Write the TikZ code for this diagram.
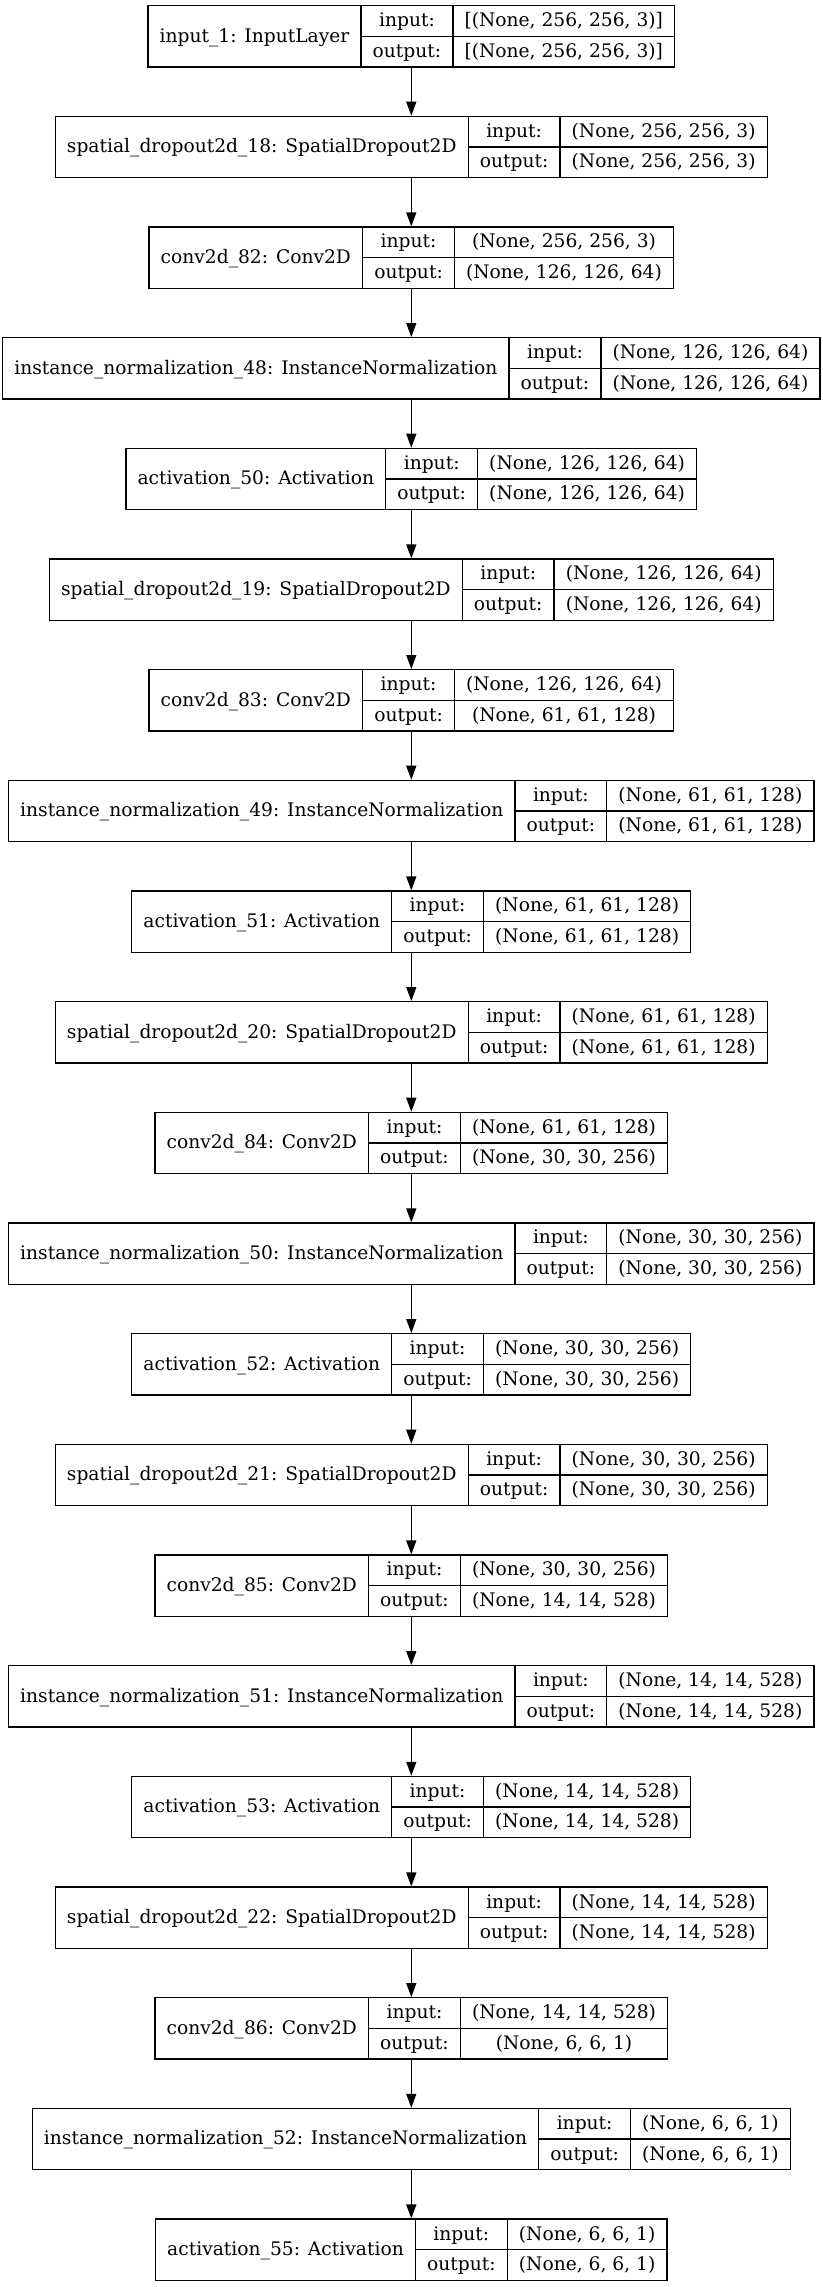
\documentclass[tikz,border=0pt]{standalone}
\usepackage{fontspec}
\setmainfont{DejaVu Serif}
\usetikzlibrary{arrows.meta}
\newsavebox\kbox
\newdimen\kdA \newdimen\kdB
\newcommand\kerasfont{\fontsize{14pt}{16pt}\selectfont}
\tikzset{
  layerbox/.style={draw=black, line width=1pt, inner sep=0pt, minimum height=46pt},
  cell/.style={draw=black, line width=1pt},
  ktext/.style={font=\kerasfont, inner sep=0pt, anchor=base, text=black},
  karrow/.style={draw=black, line width=1pt, -{Triangle[length=10.5pt, width=7.5pt]}},
}
% measured outside the picture: #1 row index, #2 label, #3 input, #4 output
\newcommand\kmeasure[4]{%
  \sbox\kbox{\normalfont\kerasfont #2}\kdA=\wd\kbox
  \pgfmathsetmacro\kt{\the\kdA/0.75+23.3}%
  \expandafter\xdef\csname kwa#1\endcsname{\kt}%
  \sbox\kbox{\normalfont\kerasfont output:}\kdA=\wd\kbox
  \pgfmathsetmacro\kt{\the\kdA/0.75+23.3}%
  \expandafter\xdef\csname kwb#1\endcsname{\kt}%
  \sbox\kbox{\normalfont\kerasfont #3}\kdA=\wd\kbox
  \sbox\kbox{\normalfont\kerasfont #4}\kdB=\wd\kbox
  \ifdim\kdB>\kdA \kdA=\kdB\fi
  \pgfmathsetmacro\kt{\the\kdA/0.75+23.3}%
  \expandafter\xdef\csname kwc#1\endcsname{\kt}%
}
% #1 row index, #2 node name, #3 label, #4 input shape, #5 output shape
\newcommand\klayer[5]{%
  \edef\kwa{\csname kwa#1\endcsname}%
  \edef\kwb{\csname kwb#1\endcsname}%
  \edef\kwc{\csname kwc#1\endcsname}%
  \pgfmathsetmacro\kW{\kwa+\kwb+\kwc}%
  \pgfmathsetmacro\ktop{5.7+#1*110.67}%
  \pgfmathsetmacro\kcy{\ktop+30.65}%
  \pgfmathsetmacro\kleft{411.3-\kW/2}%
  \pgfmathsetmacro\kxa{\kleft+\kwa}%
  \pgfmathsetmacro\kxb{\kxa+\kwb}%
  \node[layerbox, minimum width=\kW*0.75pt] (#2) at (411.3,\kcy) {};
  \coordinate (#2-a) at (\kxa,\ktop);
  \coordinate (#2-b) at (\kxb,\ktop);
  \coordinate (#2-m) at (\kxa,\kcy);
  \draw[cell] (#2-a) -- (#2-a |- #2.south);
  \draw[cell] (#2-b) -- (#2-b |- #2.south);
  \draw[cell] (#2-m) -- (#2-m -| #2.east);
  \node[ktext] (#2-lab) at ({\kleft+\kwa/2},{\kcy+5.8}) {#3};
  \node[ktext] (#2-in)  at ({\kxa+\kwb/2},{\ktop+15.3+5.6}) {input:};
  \node[ktext] (#2-out) at ({\kxa+\kwb/2},{\kcy+15.3+5.6}) {output:};
  \node[ktext] (#2-iv)  at ({\kxb+\kwc/2},{\ktop+15.3+5.6}) {#4};
  \node[ktext] (#2-ov)  at ({\kxb+\kwc/2},{\kcy+15.3+5.6}) {#5};
}
\newcommand\kall[1]{%
#1{0}{L1}{input\_1: InputLayer}{[(None, 256, 256, 3)]}{[(None, 256, 256, 3)]}%
#1{1}{L2}{spatial\_dropout2d\_18: SpatialDropout2D}{(None, 256, 256, 3)}{(None, 256, 256, 3)}%
#1{2}{L3}{conv2d\_82: Conv2D}{(None, 256, 256, 3)}{(None, 126, 126, 64)}%
#1{3}{L4}{instance\_normalization\_48: InstanceNormalization}{(None, 126, 126, 64)}{(None, 126, 126, 64)}%
#1{4}{L5}{activation\_50: Activation}{(None, 126, 126, 64)}{(None, 126, 126, 64)}%
#1{5}{L6}{spatial\_dropout2d\_19: SpatialDropout2D}{(None, 126, 126, 64)}{(None, 126, 126, 64)}%
#1{6}{L7}{conv2d\_83: Conv2D}{(None, 126, 126, 64)}{(None, 61, 61, 128)}%
#1{7}{L8}{instance\_normalization\_49: InstanceNormalization}{(None, 61, 61, 128)}{(None, 61, 61, 128)}%
#1{8}{L9}{activation\_51: Activation}{(None, 61, 61, 128)}{(None, 61, 61, 128)}%
#1{9}{L10}{spatial\_dropout2d\_20: SpatialDropout2D}{(None, 61, 61, 128)}{(None, 61, 61, 128)}%
#1{10}{L11}{conv2d\_84: Conv2D}{(None, 61, 61, 128)}{(None, 30, 30, 256)}%
#1{11}{L12}{instance\_normalization\_50: InstanceNormalization}{(None, 30, 30, 256)}{(None, 30, 30, 256)}%
#1{12}{L13}{activation\_52: Activation}{(None, 30, 30, 256)}{(None, 30, 30, 256)}%
#1{13}{L14}{spatial\_dropout2d\_21: SpatialDropout2D}{(None, 30, 30, 256)}{(None, 30, 30, 256)}%
#1{14}{L15}{conv2d\_85: Conv2D}{(None, 30, 30, 256)}{(None, 14, 14, 528)}%
#1{15}{L16}{instance\_normalization\_51: InstanceNormalization}{(None, 14, 14, 528)}{(None, 14, 14, 528)}%
#1{16}{L17}{activation\_53: Activation}{(None, 14, 14, 528)}{(None, 14, 14, 528)}%
#1{17}{L18}{spatial\_dropout2d\_22: SpatialDropout2D}{(None, 14, 14, 528)}{(None, 14, 14, 528)}%
#1{18}{L19}{conv2d\_86: Conv2D}{(None, 14, 14, 528)}{(None, 6, 6, 1)}%
#1{19}{L20}{instance\_normalization\_52: InstanceNormalization}{(None, 6, 6, 1)}{(None, 6, 6, 1)}%
#1{20}{L21}{activation\_55: Activation}{(None, 6, 6, 1)}{(None, 6, 6, 1)}%
}
\newcommand\kmeasureskip[5]{\kmeasure{#1}{#3}{#4}{#5}}
\begin{document}
\kall\kmeasureskip%
\begin{tikzpicture}[x=0.75pt, y=-0.75pt]
\useasboundingbox (0,0) rectangle (823,2287);
\fill[white] (0,0) rectangle (823,2287);
\kall\klayer
\foreach \a/\b in {L1/L2,L2/L3,L3/L4,L4/L5,L5/L6,L6/L7,L7/L8,L8/L9,L9/L10,L10/L11,L11/L12,L12/L13,L13/L14,L14/L15,L15/L16,L16/L17,L17/L18,L18/L19,L19/L20,L20/L21}
  \draw[karrow] (\a.south) -- (\b.north);
\end{tikzpicture}
\end{document}
